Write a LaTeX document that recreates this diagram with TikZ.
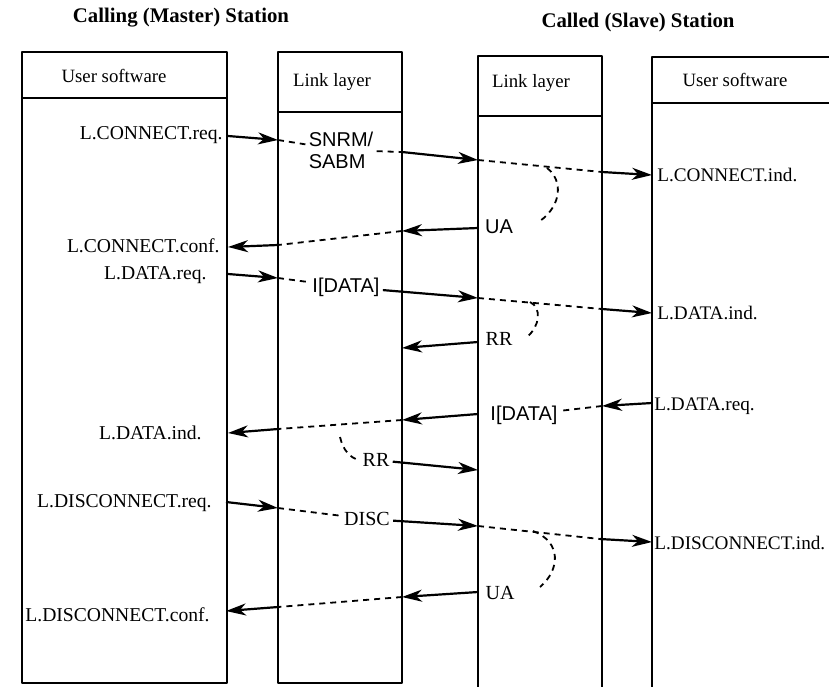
\documentclass[tikz,border=0pt]{standalone}
\usepackage{fontspec}
\setmainfont{Liberation Serif}
\setsansfont{Liberation Sans}
\usetikzlibrary{arrows.meta}

\begin{document}
\begin{tikzpicture}[x=0.5pt, y=-0.5pt, line join=round,
  lane/.style={line width=1.3pt},
  hd/.style={font=\fontsize{9.4}{11}\selectfont},
  tl/.style={font=\fontsize{10.4}{12}\selectfont\bfseries},
  ml/.style={anchor=east, inner sep=0pt, font=\fontsize{9.8}{11}\selectfont},
  mr/.style={anchor=west, inner sep=0pt, font=\fontsize{9.6}{11}\selectfont},
  pl/.style={inner sep=1.5pt, font=\fontsize{10}{11}\selectfont},
  ps/.style={pl, font=\fontsize{10}{11}\selectfont\sffamily},
  sol/.style={line width=1.1pt, -{Stealth[length=10pt, width=6pt, inset=3pt]}},
  dsh/.style={line width=0.9pt, dash pattern=on 3pt off 2.5pt}]
\useasboundingbox (0,0) rectangle (829,686);
\node[tl] (ttl1) at (181,18) {Calling (Master) Station};
\node[tl] (ttl2) at (638,22) {Called (Slave) Station};
\draw[lane] (22,52) rectangle (227,683);
\draw[lane] (22,98) -- (227,98);
\draw[lane] (278,52) rectangle (402,683);
\draw[lane] (278,112) -- (402,112);
\draw[lane] (478,56) rectangle (602,700);
\draw[lane] (478,116) -- (602,116);
\draw[lane] (652,57) rectangle (850,700);
\draw[lane] (652,103) -- (850,103);
\node[hd] (hd1) at (114,76) {User software};
\node[hd] (hd2) at (332,82) {Link layer};
\node[hd] (hd3) at (531,83) {Link layer};
\node[hd] (hd4) at (735,80) {User software};
\coordinate (c1a) at (228,136);
\coordinate (c1b) at (278,140);
\coordinate (c1c) at (402,152);
\coordinate (c1d) at (478,160);
\coordinate (c1e) at (602,172);
\coordinate (c1f) at (652,175);
\coordinate (c2a) at (478,228);
\coordinate (c2b) at (402,231);
\coordinate (c2c) at (278,245);
\coordinate (c2d) at (228,247);
\coordinate (d1a) at (228,274);
\coordinate (d1b) at (278,278);
\coordinate (d1d) at (478,298);
\coordinate (d1e) at (602,309);
\coordinate (d1f) at (652,313);
\coordinate (r1a) at (478,342);
\coordinate (r1b) at (402,348);
\coordinate (d2a) at (652,403);
\coordinate (d2b) at (602,406);
\coordinate (d2c) at (478,414);
\coordinate (d2d) at (402,420);
\coordinate (d2e) at (278,429);
\coordinate (d2f) at (228,433);
\coordinate (r2b) at (478,470);
\coordinate (x1a) at (226,502);
\coordinate (x1b) at (278,508);
\coordinate (x1d) at (478,526);
\coordinate (x1e) at (600,539);
\coordinate (x1f) at (652,542);
\coordinate (x2a) at (478,592);
\coordinate (x2b) at (402,597);
\coordinate (x2c) at (278,607);
\coordinate (x2d) at (226,611);
\coordinate (t1s) at (547,168);
\coordinate (t1e) at (540,221);
\coordinate (t2s) at (530,302);
\coordinate (t2e) at (527,337);
\coordinate (t3s) at (340,437);
\coordinate (t4s) at (533,531);
\coordinate (t4e) at (540,587);
\node[ml] (creq) at (223,135) {L.CONNECT.req.};
\node[mr] (cind) at (657,175) {L.CONNECT.ind.};
\node[ml] (cconf) at (220,246) {L.CONNECT.conf.};
\node[ml] (dreq1) at (207,275) {L.DATA.req.};
\node[mr] (dind1) at (657,313) {L.DATA.ind.};
\node[mr] (dreq2) at (654,406) {L.DATA.req.};
\node[ml] (dind2) at (202,433) {L.DATA.ind.};
\node[ml] (dcreq) at (212,503) {L.DISCONNECT.req.};
\node[mr] (dcind) at (654,543) {L.DISCONNECT.ind.};
\node[ml] (dcconf) at (210,615) {L.DISCONNECT.conf.};
\node[ps, align=left] (snrm) at (341,150) {SNRM/\\SABM};
\node[ps] (ua1) at (499,227) {UA};
\node[ps] (idat1) at (346,287) {I[DATA]};
\node[pl] (rr1) at (499,339) {RR};
\node[ps] (idat2) at (524,415) {I[DATA]};
\node[pl] (rr2) at (376,460) {RR};
\node[pl] (disc) at (367,519) {DISC};
\node[pl] (ua2) at (500,593) {UA};
\draw[sol] (c1a) -- (c1b);
\draw[dsh] (c1b) -- (snrm);
\draw[dsh] (snrm) -- (c1c);
\draw[sol] (c1c) -- (c1d);
\draw[dsh] (c1d) -- (c1e);
\draw[sol] (c1e) -- (c1f);
\draw[dsh] (t1s) .. controls (563,180) and (562,205) .. (t1e);
\draw[sol] (c2a) -- (c2b);
\draw[dsh] (c2b) -- (c2c);
\draw[sol] (c2c) -- (c2d);
\draw[sol] (d1a) -- (d1b);
\draw[dsh] (d1b) -- (idat1);
\draw[sol] (idat1) -- (d1d);
\draw[dsh] (d1d) -- (d1e);
\draw[sol] (d1e) -- (d1f);
\draw[dsh] (t2s) .. controls (542,308) and (540,326) .. (t2e);
\draw[sol] (r1a) -- (r1b);
\draw[sol] (d2a) -- (d2b);
\draw[dsh] (d2b) -- (idat2);
\draw[sol] (d2c) -- (d2d);
\draw[dsh] (d2d) -- (d2e);
\draw[sol] (d2e) -- (d2f);
\draw[dsh] (t3s) .. controls (343,450) and (350,458) .. (rr2.west);
\draw[sol] (rr2) -- (r2b);
\draw[sol] (x1a) -- (x1b);
\draw[dsh] (x1b) -- (disc);
\draw[sol] (disc) -- (x1d);
\draw[dsh] (x1d) -- (x1e);
\draw[sol] (x1e) -- (x1f);
\draw[dsh] (t4s) .. controls (562,542) and (560,570) .. (t4e);
\draw[sol] (x2a) -- (x2b);
\draw[dsh] (x2b) -- (x2c);
\draw[sol] (x2c) -- (x2d);
\end{tikzpicture}
\end{document}
